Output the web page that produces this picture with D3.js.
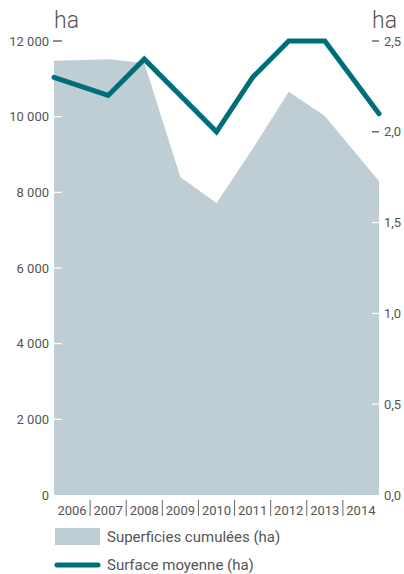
<!DOCTYPE html>
<html>
<head>
<meta charset="utf-8">
<script src="https://cdn.jsdelivr.net/npm/d3@7"></script>
<style>
  body { margin: 0; background: #fff; }
  text { font-family: Roboto, "Liberation Sans", sans-serif; fill: #555; }
</style>
</head>
<body>
<div id="chart"></div>
<script>
// data
var years = ["2006", "2007", "2008", "2009", "2010", "2011", "2012", "2013", "2014"];
var surfCumul = [11480, 11520, 11420, 8400, 7720, 9150, 10660, 10020, 8290];
var surfMoy = [2.3, 2.2, 2.4, 2.2, 2.0, 2.3, 2.5, 2.5, 2.1];
var leftTicks = [0, 2000, 4000, 6000, 8000, 10000, 12000];
var rightTicks = [0, 0.5, 1.0, 1.5, 2.0, 2.5];
var legendLabels = ["Superficies cumulées (ha)", "Surface moyenne (ha)"];

var width = 404, height = 574;
var margin = {top: 41, right: 25, bottom: 79, left: 54};
var w = width - margin.left - margin.right,
    h = height - margin.top - margin.bottom;

var areaColor = "#bfcdd4", lineColor = "#006e79";

var svg = d3.select("#chart")
  .append("svg")
  .attr("width", width)
  .attr("height", height);

var g = svg.append("g")
  .attr("transform", "translate(" + margin.left + "," + margin.top + ")");

var xBand = d3.scaleBand().domain(years).range([0, w]);
// first and last points sit on the plot edges, others on band centres
var xPos = function(d, i) {
  if (i == 0) return xBand.range()[0];
  if (i == years.length - 1) return xBand.range()[1];
  return xBand(years[i]) + xBand.bandwidth() / 2;
};

var yL = d3.scaleLinear().domain([0, 12000]).range([h, 0]);
var yR = d3.scaleLinear().domain([0, 2.5]).range([h, 0]);

// area
g.append("path")
  .datum(surfCumul)
  .attr("fill", areaColor)
  .attr("d", d3.area()
    .x(xPos)
    .y0(yL(0))
    .y1(function(d) { return yL(d); }));

// left axis
var fmtL = function(d) { return d3.format(",")(d).replace(",", " "); };
var leftEdgeY = yL(surfCumul[0]);
g.selectAll(".ltick")
  .data(leftTicks.filter(function(d) { return d > 0; }))
  .enter().append("line")
  .attr("x1", function(d) { return yL(d) < leftEdgeY ? -1 : 0; })
  .attr("x2", 8)
  .attr("y1", function(d) { return yL(d); })
  .attr("y2", function(d) { return yL(d); })
  .attr("stroke", function(d) { return yL(d) < leftEdgeY ? "#444" : "#fff"; })
  .attr("stroke-width", 1.2);

g.selectAll(".llabel")
  .data(leftTicks)
  .enter().append("text")
  .attr("x", -5)
  .attr("y", function(d) { return yL(d); })
  .attr("dy", "0.35em")
  .attr("text-anchor", "end")
  .style("font-size", "13px")
  .text(fmtL);

// right axis
var rightEdgeY = yL(surfCumul[surfCumul.length - 1]);
g.selectAll(".rtick")
  .data(rightTicks.filter(function(d) { return d > 0; }))
  .enter().append("line")
  .attr("x1", w - 7)
  .attr("x2", w)
  .attr("y1", function(d) { return yR(d); })
  .attr("y2", function(d) { return yR(d); })
  .attr("stroke", function(d) { return yR(d) < rightEdgeY ? "#444" : "#fff"; })
  .attr("stroke-width", 1.2);

g.selectAll(".rlabel")
  .data(rightTicks)
  .enter().append("text")
  .attr("x", w + 5)
  .attr("y", function(d) { return yR(d); })
  .attr("dy", "0.35em")
  .attr("text-anchor", "start")
  .style("font-size", "13px")
  .text(function(d) { return d3.format(".1f")(d).replace(".", ","); });

// unit labels
g.append("text")
  .attr("x", 0)
  .attr("y", -13)
  .style("font-size", "23px")
  .style("font-weight", "300")
  .text("ha");
g.append("text")
  .attr("x", w - 7)
  .attr("y", -13)
  .style("font-size", "23px")
  .style("font-weight", "300")
  .text("ha");

// x labels and separators
g.selectAll(".xlabel")
  .data(years)
  .enter().append("text")
  .attr("x", function(d) { return xBand(d) + xBand.bandwidth() / 2; })
  .attr("y", h + 20)
  .attr("text-anchor", "middle")
  .style("font-size", "13px")
  .text(function(d) { return d; });

g.selectAll(".xsep")
  .data(years.slice(1))
  .enter().append("line")
  .attr("x1", function(d) { return xBand(d); })
  .attr("x2", function(d) { return xBand(d); })
  .attr("y1", h + 5)
  .attr("y2", h + 21)
  .attr("stroke", "#666")
  .attr("stroke-width", 1);

// line
g.append("path")
  .datum(surfMoy)
  .attr("fill", "none")
  .attr("stroke", lineColor)
  .attr("stroke-width", 5)
  .attr("stroke-linejoin", "miter")
  .attr("stroke-linecap", "round")
  .attr("d", d3.line()
    .x(xPos)
    .y(function(d) { return yR(d); }));

// legend
var leg = svg.append("g").attr("transform", "translate(55,528)");
leg.append("rect")
  .attr("width", 45)
  .attr("height", 17)
  .attr("fill", areaColor);
leg.append("text")
  .attr("x", 52)
  .attr("y", 14)
  .style("font-size", "15px")
  .text(legendLabels[0]);
leg.append("line")
  .attr("x1", 2)
  .attr("x2", 43)
  .attr("y1", 37)
  .attr("y2", 37)
  .attr("stroke", lineColor)
  .attr("stroke-width", 5)
  .attr("stroke-linecap", "round");
leg.append("text")
  .attr("x", 52)
  .attr("y", 42)
  .style("font-size", "15px")
  .text(legendLabels[1]);
</script>
</body>
</html>
